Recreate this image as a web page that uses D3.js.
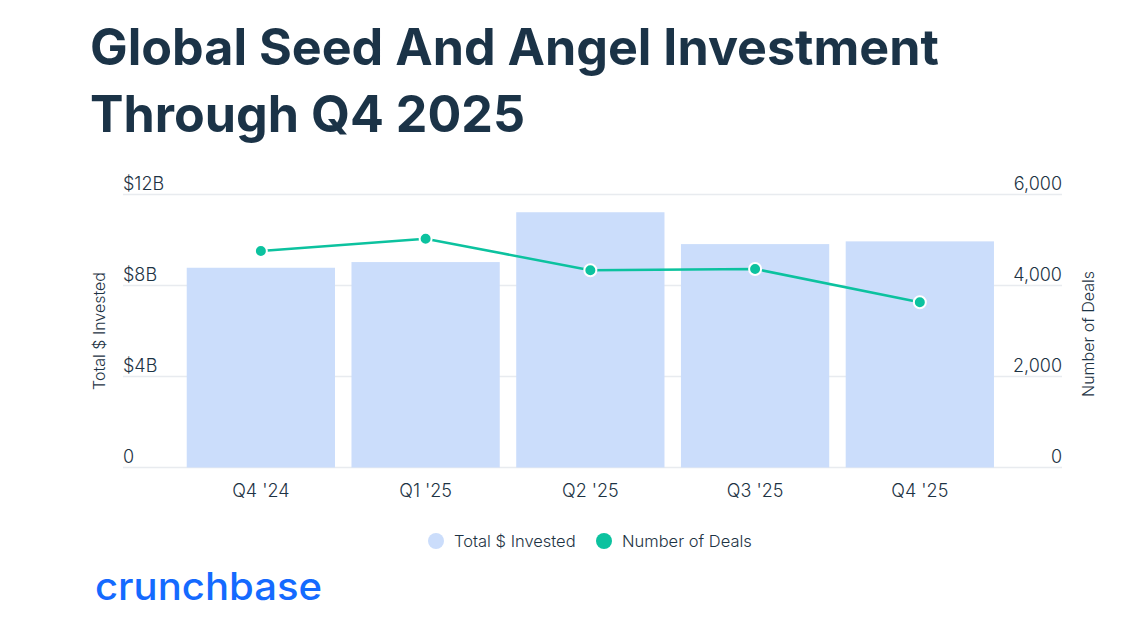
<!DOCTYPE html>
<html>
<head>
<meta charset="utf-8">
<script src="https://cdn.jsdelivr.net/npm/d3@7"></script>
<style>
  body { margin: 0; background: #fff; }
  svg { display: block; font-family: Inter, "Noto Sans", sans-serif; }
</style>
</head>
<body>
<div id="container"></div>
<script>
const quarters = ["Q4 '24", "Q1 '25", "Q2 '25", "Q3 '25", "Q4 '25"];
const invested = [8.78, 9.03, 11.22, 9.82, 9.94]; // $B
const deals = [4758, 5029, 4334, 4363, 3631];
const leftTicks = [0, 4, 8, 12];
const rightTicks = [0, 2000, 4000, 6000];

const WIDTH = 1135;
const HEIGHT = 631;
const barColor = '#cbddfb';
const lineColor = '#0cc29f';
const textColor = '#1d3344';

let svg = d3.select('#container').append('svg').attr('width', WIDTH).attr('height', HEIGHT);

let x = d3.scaleBand().domain(quarters).range([178.5, 1002.2]).paddingInner(0.1).paddingOuter(0.05);
let yL = d3.scaleLinear().domain([0, 12]).range([467.5, 194.5]);
let yR = d3.scaleLinear().domain([0, 6000]).range([467.5, 194.5]);

// title
let title = svg.append('g')
  .attr('font-weight', 700)
  .attr('fill', '#1b3347');
let t1 = title.append('text').attr('x', 90).attr('y', 65).attr('font-size', 52).text('Global Seed And Angel Investment');
let t2 = title.append('text').attr('x', 90).attr('y', 132).attr('font-size', 52).text('Through Q4 2025');
let fs = 52 * 849 / t1.node().getComputedTextLength();
t1.attr('font-size', fs);
t2.attr('font-size', fs);

// grid
svg.append('g')
  .selectAll('line')
  .data(leftTicks)
  .join('line')
  .attr('x1', 123).attr('x2', 1062)
  .attr('y1', (d) => yL(d)).attr('y2', (d) => yL(d))
  .attr('stroke', '#e8ebef')
  .attr('stroke-width', 1.5);

// bars
svg.append('g')
  .selectAll('rect')
  .data(invested)
  .join('rect')
  .attr('x', (d, i) => x(quarters[i]))
  .attr('width', x.bandwidth())
  .attr('y', (d) => yL(d))
  .attr('height', (d) => yL(0) - yL(d))
  .attr('fill', barColor);

// axis labels
let labels = svg.append('g').attr('font-size', 18).attr('font-weight', 300).attr('fill', textColor);
labels.selectAll('.l')
  .data(leftTicks)
  .join('text')
  .attr('class', 'l')
  .attr('x', 123).attr('y', (d) => yL(d) - 5)
  .text((d) => (d === 0 ? '0' : `$${d}B`));
labels.selectAll('.r')
  .data(rightTicks)
  .join('text')
  .attr('class', 'r')
  .attr('x', 1062).attr('y', (d) => yR(d) - 5)
  .attr('text-anchor', 'end')
  .text((d) => d3.format(',')(d));
labels.selectAll('.x')
  .data(quarters)
  .join('text')
  .attr('class', 'x')
  .attr('x', (d) => x(d) + x.bandwidth() / 2).attr('y', 497)
  .attr('text-anchor', 'middle')
  .text((d) => d);

labels.append('text')
  .attr('transform', 'translate(105,331) rotate(-90)')
  .attr('text-anchor', 'middle')
  .attr('font-size', 16)
  .text('Total $ Invested');
labels.append('text')
  .attr('transform', 'translate(1094,334) rotate(-90)')
  .attr('text-anchor', 'middle')
  .attr('font-size', 16)
  .text('Number of Deals');

// line
let line = d3.line()
  .x((d, i) => x(quarters[i]) + x.bandwidth() / 2)
  .y((d) => yR(d));

svg.append('path')
  .datum(deals)
  .attr('d', line)
  .attr('fill', 'none')
  .attr('stroke', lineColor)
  .attr('stroke-width', 2.5);

svg.append('g')
  .selectAll('circle')
  .data(deals)
  .join('circle')
  .attr('cx', (d, i) => x(quarters[i]) + x.bandwidth() / 2)
  .attr('cy', (d) => yR(d))
  .attr('r', 6)
  .attr('fill', lineColor)
  .attr('stroke', '#fff')
  .attr('stroke-width', 2);

// legend
let legend = svg.append('g').attr('font-size', 16.5).attr('font-weight', 300).attr('fill', textColor);
legend.append('circle').attr('cx', 436).attr('cy', 541).attr('r', 8).attr('fill', barColor);
legend.append('text').attr('x', 454).attr('y', 547).text('Total $ Invested');
legend.append('circle').attr('cx', 604).attr('cy', 541).attr('r', 8).attr('fill', lineColor);
legend.append('text').attr('x', 622).attr('y', 547).text('Number of Deals');

// logo
let logo = svg.append('text')
  .attr('x', 95).attr('y', 600)
  .attr('font-size', 38)
  .attr('font-weight', 500)
  .attr('fill', '#146aff')
  .text('crunchbase');
logo.attr('textLength', 227).attr('lengthAdjust', 'spacingAndGlyphs');
</script>
</body>
</html>
